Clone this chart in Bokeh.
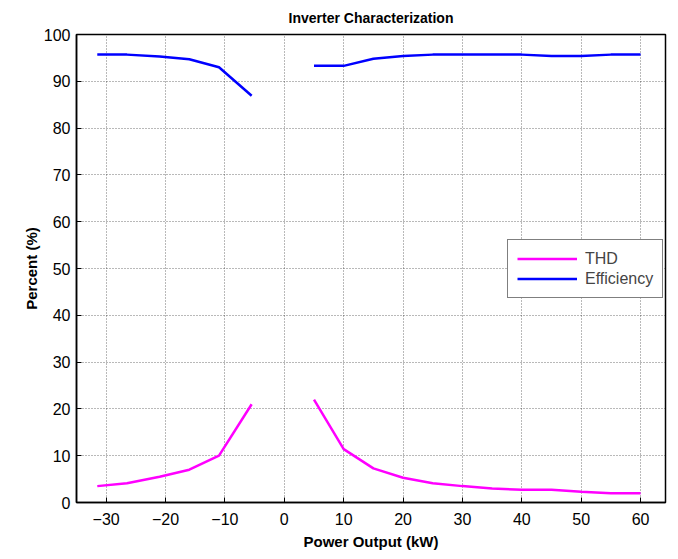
import numpy as np
from bokeh.plotting import figure
from bokeh.models import FixedTicker, Legend, LegendItem, Range1d
from bokeh.embed import file_html
from bokeh.resources import INLINE

# Data
power_kw = [-31.5, -26.5, -21, -16, -11, -5.5, np.nan,
            5, 10, 15, 20, 25, 30, 35, 40, 45, 50, 55, 60]
thd = [3.5, 4.1, 5.5, 7.0, 10.0, 21.0, np.nan,
       22.0, 11.4, 7.3, 5.3, 4.1, 3.5, 3.0, 2.7, 2.7, 2.3, 2.0, 2.0]
efficiency = [95.7, 95.7, 95.3, 94.7, 93.0, 86.9, np.nan,
              93.3, 93.3, 94.8, 95.4, 95.7, 95.7, 95.7, 95.7, 95.4, 95.4, 95.7, 95.7]
x_ticks = [-30, -20, -10, 0, 10, 20, 30, 40, 50, 60]
y_ticks = [0, 10, 20, 30, 40, 50, 60, 70, 80, 90, 100]

FONT = "Liberation Sans"

p = figure(width=678, height=559, output_backend="svg", toolbar_location=None,
           x_range=Range1d(-35, 64.2), y_range=Range1d(0, 100),
           title="Inverter Characterization",
           min_border_left=76, min_border_right=13, min_border_top=34, min_border_bottom=57)

p.title.text_font = FONT
p.title.text_font_size = "14px"
p.title.text_font_style = "bold"
p.title.text_color = "black"
p.title.align = "center"
p.title.offset = 0
p.title.standoff = 14
p.title.vertical_align = "top"

l1 = p.line(power_kw, thd, line_color="#FF00FF", line_width=2.5)
l2 = p.line(power_kw, efficiency, line_color="#0000FF", line_width=2.5)

for ax in [p.xaxis[0], p.yaxis[0]]:
    ax.major_tick_in = 5
    ax.major_tick_out = 0
    ax.minor_tick_in = 0
    ax.minor_tick_out = 0
    ax.axis_line_width = 1.5
    ax.major_label_text_font = FONT
    ax.major_label_text_font_size = "16px"
    ax.major_label_text_color = "black"
    ax.axis_label_text_font = FONT
    ax.axis_label_text_font_size = "15px"
    ax.axis_label_text_font_style = "bold"
    ax.axis_label_text_color = "black"

p.xaxis[0].ticker = FixedTicker(ticks=x_ticks)
p.yaxis[0].ticker = FixedTicker(ticks=y_ticks)
p.xaxis[0].axis_label = "Power Output (kW)"
p.yaxis[0].axis_label = "Percent (%)"
p.xaxis[0].major_label_standoff = 10
p.yaxis[0].major_label_standoff = 6
p.xaxis[0].axis_label_standoff = 5
p.yaxis[0].axis_label_standoff = 1

p.grid.grid_line_color = "black"
p.grid.grid_line_alpha = 0.55
p.grid.grid_line_dash = "1 2"
p.grid.grid_line_width = 1
p.xgrid.ticker = FixedTicker(ticks=x_ticks)
p.ygrid.ticker = FixedTicker(ticks=y_ticks)

legend = Legend(items=[LegendItem(label="THD", renderers=[l1]),
                       LegendItem(label="Efficiency", renderers=[l2])],
                location=(431, 204))
legend.label_text_font = FONT
legend.label_text_font_size = "16px"
legend.glyph_width = 60
legend.glyph_height = 19
legend.spacing = 1
legend.padding = 9
legend.margin = 0
legend.label_standoff = 8
legend.border_line_color = "black"
legend.border_line_width = 1.2
legend.background_fill_alpha = 1
p.add_layout(legend, "center")

p.outline_line_color = "black"
p.outline_line_width = 1.5
p.background_fill_color = "white"
p.border_fill_color = "white"

open("out.html", "w").write(file_html(p, INLINE))
